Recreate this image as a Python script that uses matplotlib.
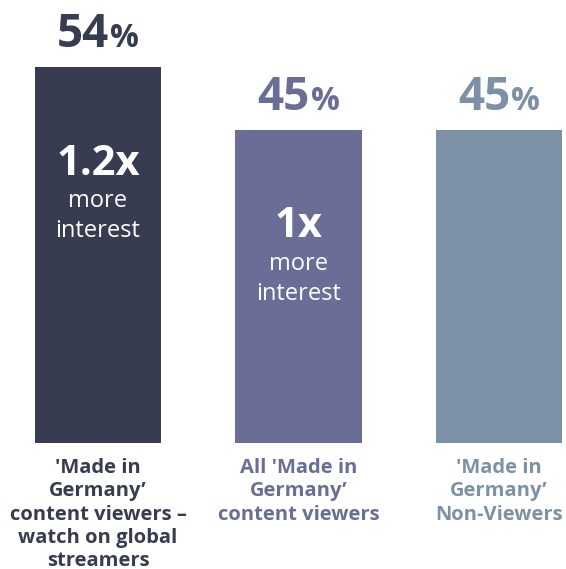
import matplotlib
matplotlib.use("Agg")
from matplotlib import pyplot as plt

groups = ["'Made in\nGermany\u2019\ncontent viewers \u2013\nwatch on global\nstreamers",
          "All 'Made in\nGermany\u2019\ncontent viewers",
          "'Made in\nGermany\u2019\nNon-Viewers"]
shares = [54, 45, 45]
multipliers = ["1.2x", "1x", None]
colors = ["#383c50", "#6a6e96", "#7c91a6"]

plt.rcParams['font.family'] = ['Open Sans', 'DejaVu Sans']

fig = plt.figure(figsize=(5.66, 5.69), dpi=100)
ax = fig.add_axes([0, 0, 1, 1])
x = range(len(shares))
ax.bar(x, shares, width=0.63, color=colors)

ax.set_xlim(-0.489, 2.334)
ax.set_ylim(-18.1, 63.65)
ax.axis('off')

px = 0.72  # points per pixel
for i, (v, c) in enumerate(zip(shares, colors)):
    ax.annotate(str(v), (i, v), xytext=(11 * px, 20 * px), textcoords='offset points',
                ha='right', va='baseline', fontsize=33, fontweight='bold', color=c)
    ax.annotate('%', (i, v), xytext=(12 * px, 20 * px), textcoords='offset points',
                ha='left', va='baseline', fontsize=23, fontweight='bold', color=c)
    m = multipliers[i]
    if m:
        ax.annotate(m, (i, v), xytext=(0, -97 * px), textcoords='offset points',
                    ha='center', va='center', fontsize=30, fontweight='bold', color='white')
        ax.annotate('more', (i, v), xytext=(0, -134 * px), textcoords='offset points',
                    ha='center', va='center', fontsize=17, color='white')
        ax.annotate('interest', (i, v), xytext=(0, -164 * px), textcoords='offset points',
                    ha='center', va='center', fontsize=17, color='white')
    ax.annotate(groups[i], (i, 0), xytext=(0, -15 * px), textcoords='offset points',
                ha='center', va='top', fontsize=14.5, fontweight='bold', color=c,
                linespacing=1.22)

fig.savefig("out.png", dpi=100)
